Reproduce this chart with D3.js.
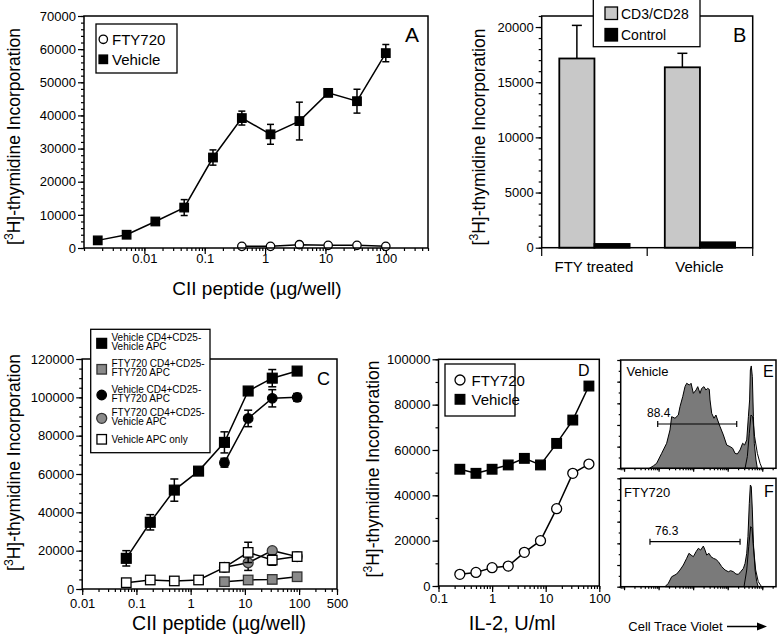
<!DOCTYPE html>
<html>
<head>
<meta charset="utf-8">
<script src="https://cdn.jsdelivr.net/npm/d3@7"></script>
<style>
  body { margin: 0; background: #fff; }
  svg { display: block; font-family: "Liberation Sans", Arial, Helvetica, sans-serif; }
</style>
</head>
<body>
<svg id="fig" width="778" height="636"></svg>
<script>
// ---- panel A: CII peptide dose response ----
var doseA      = [0.00169, 0.00508, 0.0152, 0.0457, 0.137, 0.412, 1.23, 3.7, 11.1, 33.3, 100];
var vehicleA   = [2300, 4000, 8000, 12200, 27300, 39200, 34300, 38300, 46800, 44300, 58800];
var vehicleErr = [500, 500, 700, 2400, 2300, 2100, 3000, 5700, 800, 3600, 2600];
var doseAFty   = [0.412, 1.23, 3.7, 11.1, 33.3, 100];
var ftyA       = [500, 500, 1000, 800, 800, 500];
var ftyAErr    = [300, 300, 300, 300, 300, 300];
var xTicksA = [0.01, 0.1, 1, 10, 100];
var yTicksA = [0, 10000, 20000, 30000, 40000, 50000, 60000, 70000];

// ---- panel B: CD3/CD28 bars ----
var groupsB   = ["FTY treated", "Vehicle"];
var seriesB   = ["CD3/CD28", "Control"];
var cd3B      = [17150, 16350];
var cd3BErr   = [3000, 1270];
var controlB  = [340, 490];
var yTicksB = [0, 5000, 10000, 15000, 20000];

// ---- panel C: co-culture ----
var doseC     = [0.065, 0.18, 0.5, 1.4, 4.2, 11.5, 32, 92];
var doseC2    = [4.2, 11.5, 32, 92];
var vehVeh    = [16000, 34800, 51600, 61500, 76500, 103300, 110000, 113700];
var vehVehErr = [4000, 4000, 5800, 1000, 5500, 1000, 4500, 1000];
var vehFty    = [65900, 89000, 99500, 100000];
var vehFtyErr = [2300, 4300, 4500, 2000];
var ftyFty    = [3800, 4700, 5000, 6400];
var ftyFtyErr = [500, 500, 500, 500];
var ftyVeh    = [11300, 13700, 20000, 16900];
var ftyVehErr = [1000, 4000, 1000, 1000];
var apcOnly    = [3300, 4700, 4200, 4700, 11300, 19100, 15100, 16900];
var apcOnlyErr = [500, 500, 500, 500, 1000, 5300, 2700, 1000];
var xTicksC = [0.01, 0.1, 1, 10, 100, 500];
var yTicksC = [0, 20000, 40000, 60000, 80000, 100000, 120000];

// ---- panel D: IL-2 ----
var il2     = [0.25, 0.5, 1, 2, 4, 8, 16, 32, 64];
var vehD    = [51500, 49700, 51500, 53400, 56300, 53400, 62900, 73200, 88200];
var ftyD    = [5150, 6000, 8100, 8800, 14850, 20000, 34100, 49700, 53800];
var xTicksD = [0.1, 1, 10, 100];
var yTicksD = [0, 20000, 40000, 60000, 80000, 100000];

// ---- panels E/F: Cell Trace Violet histograms (channel, % of max) ----
var chanE  = [189, 215, 237, 270, 303, 325, 336, 358, 380, 391, 409, 424, 435, 453, 464, 479, 497, 508, 523, 534, 549, 562, 573, 584, 589, 600, 615, 628, 639, 655, 677, 699, 721, 738, 754, 769, 787, 804, 817, 831, 842, 850, 855, 861, 868, 875, 881, 892, 901];
var countE = [0, 2.2, 4.6, 13.8, 23.1, 35.4, 47.7, 46.2, 49.2, 56.9, 66.2, 75.4, 78.5, 76.9, 78.5, 69.2, 72.3, 75.4, 69.2, 73.8, 75.4, 72.3, 73.8, 72.9, 63.1, 50.8, 46.2, 49.2, 44.6, 38.5, 30.8, 21.5, 20, 18.5, 13.8, 13.2, 16.9, 23.1, 21.5, 26.2, 47.7, 63.1, 90.8, 94.5, 84.6, 47.7, 23.1, 7.7, 0];
var ctrlChanE  = [820, 835, 848, 859, 870, 883, 901, 919, 932];
var ctrlCountE = [0, 10.8, 32.3, 49.2, 47.7, 29.2, 13.8, 4.6, 0];
var chanF  = [292, 314, 336, 369, 391, 413, 435, 450, 464, 479, 497, 512, 527, 545, 556, 567, 582, 595, 611, 628, 644, 666, 688, 710, 725, 743, 760, 776, 791, 809, 820, 831, 839, 848, 855, 861, 868, 875, 886, 897, 907];
var countF = [0, 3.1, 9.2, 11.7, 15.4, 20, 26.2, 30.8, 29.2, 27.7, 32.3, 35.4, 33.8, 37.5, 33.8, 29.2, 30.8, 27.7, 26.2, 25.2, 23.1, 18.5, 15.4, 13.8, 14.8, 13.8, 11.7, 11.4, 13.8, 16.9, 21.5, 30.8, 46.2, 76.9, 93.8, 92.3, 70.8, 40, 15.4, 4.6, 0];
var ctrlChanF  = [813, 831, 844, 857, 866, 875, 890, 907, 929];
var ctrlCountF = [0, 15.4, 36.9, 55.4, 53.8, 36.9, 15.4, 4.6, 0];
var gateE = [244, 765], gateELevel = 40.9, gateELabel = "88.4";
var gateF = [193, 787], gateFLevel = 41.5, gateFLabel = "76.3";

var svg = d3.select("#fig");
svg.append("rect").attr("width", 778).attr("height", 636).attr("fill", "#fff");

function frame(x0, x1, y0, y1) {
    svg.append("rect")
        .attr("x", x0).attr("y", y0)
        .attr("width", x1 - x0).attr("height", y1 - y0)
        .attr("fill", "none").attr("stroke", "#000").attr("stroke-width", 1.5);
}

function styleAxis(g, fs) {
    g.select("path.domain").remove();
    g.selectAll("line").attr("stroke", "#000").attr("stroke-width", 1.2);
    g.selectAll("text").attr("font-size", fs).attr("fill", "#000")
        .attr("font-family", "Liberation Sans, Arial, sans-serif");
}

function yAxis(y, x0, majors, minorStep) {
    var dom = y.domain();
    var minors = d3.range(dom[0], dom[1] + 1, minorStep);
    var gm = svg.append("g").attr("transform", "translate(" + x0 + ",0)")
        .call(d3.axisLeft(y).tickValues(minors).tickSize(3).tickFormat(""));
    styleAxis(gm, 13);
    var g = svg.append("g").attr("transform", "translate(" + x0 + ",0)")
        .call(d3.axisLeft(y).tickValues(majors).tickSize(6).tickPadding(2).tickFormat(d3.format("d")));
    styleAxis(g, 13);
}

function xLogAxis(x, y0, majors, pad) {
    var dom = x.domain(), minors = [];
    for (var e = Math.floor(Math.log10(dom[0])); e <= Math.ceil(Math.log10(dom[1])); e++) {
        for (var m = 1; m < 10; m++) {
            var v = m * Math.pow(10, e);
            if (v >= dom[0] * 0.999 && v <= dom[1] * 1.001) minors.push(v);
        }
    }
    var gm = svg.append("g").attr("transform", "translate(0," + y0 + ")")
        .call(d3.axisBottom(x).tickValues(minors).tickSize(3).tickFormat(""));
    styleAxis(gm, 13);
    var g = svg.append("g").attr("transform", "translate(0," + y0 + ")")
        .call(d3.axisBottom(x).tickValues(majors).tickSize(6).tickPadding(pad)
            .tickFormat(function (d) { return String(d); }));
    styleAxis(g, 13);
}

function yTitle(x, y, fs) {
    var t = svg.append("text")
        .attr("transform", "translate(" + x + "," + y + ") rotate(-90)")
        .attr("text-anchor", "middle").attr("font-size", fs);
    t.append("tspan").text("[");
    t.append("tspan").attr("font-size", "70%").attr("dy", -7).text("3");
    t.append("tspan").attr("dy", 7).text("H]-thymidine Incorporation");
}

function label(x, y, txt, fs, anchor) {
    return svg.append("text").attr("x", x).attr("y", y)
        .attr("font-size", fs).attr("text-anchor", anchor || "start").text(txt);
}

function zip(xs, ys, es) {
    return xs.map(function (d, i) { return { x: d, y: ys[i], e: es ? es[i] : 0 }; });
}

function series(pts, x, y, opt) {
    var g = svg.append("g");
    g.append("path").datum(pts)
        .attr("fill", "none").attr("stroke", "#000").attr("stroke-width", 1.5)
        .attr("d", d3.line().x(function (d) { return x(d.x); }).y(function (d) { return y(d.y); }));
    var eb = g.append("g").attr("stroke", "#000").attr("stroke-width", 1.5);
    pts.forEach(function (d) {
        if (!d.e) return;
        var cx = x(d.x);
        eb.append("line").attr("x1", cx).attr("x2", cx).attr("y1", y(d.y - d.e)).attr("y2", y(d.y + d.e));
        [d.y - d.e, d.y + d.e].forEach(function (v) {
            eb.append("line").attr("x1", cx - opt.cap).attr("x2", cx + opt.cap).attr("y1", y(v)).attr("y2", y(v));
        });
    });
    drawMarks(g, pts.map(function (d) { return [x(d.x), y(d.y)]; }), opt);
}

function drawMarks(g, xy, opt) {
    var s = opt.size;
    if (opt.shape === "square") {
        g.selectAll(null).data(xy).enter().append("rect")
            .attr("x", function (d) { return d[0] - s / 2; })
            .attr("y", function (d) { return d[1] - s / 2; })
            .attr("width", s).attr("height", s)
            .attr("fill", opt.fill).attr("stroke", opt.stroke || "#000").attr("stroke-width", 1.3);
    } else {
        g.selectAll(null).data(xy).enter().append("circle")
            .attr("cx", function (d) { return d[0]; })
            .attr("cy", function (d) { return d[1]; })
            .attr("r", s / 2)
            .attr("fill", opt.fill).attr("stroke", opt.stroke || "#000").attr("stroke-width", 1.3);
    }
}

function legendBox(x0, y0, x1, y1) {
    svg.append("rect").attr("x", x0).attr("y", y0).attr("width", x1 - x0).attr("height", y1 - y0)
        .attr("fill", "#fff").attr("stroke", "#000").attr("stroke-width", 1.3);
}

// ================= Panel A =================
var xA = d3.scaleLog().domain([0.001, 500]).range([84, 428]);
var yA = d3.scaleLinear().domain([0, 70000]).range([248, 16]);
yAxis(yA, 84, yTicksA, 2000);
xLogAxis(xA, 248, xTicksA, 0);
series(zip(doseAFty, ftyA, ftyAErr), xA, yA, { shape: "circle", size: 8.4, fill: "#fff", cap: 3 });
series(zip(doseA, vehicleA, vehicleErr), xA, yA, { shape: "square", size: 8.5, fill: "#000", cap: 3.5 });
frame(84, 428, 16, 248);
legendBox(96, 24, 177, 73);
drawMarks(svg, [[103.3, 39.3]], { shape: "circle", size: 8.4, fill: "#fff" });
drawMarks(svg, [[103.3, 59.3]], { shape: "square", size: 8.5, fill: "#000" });
label(112, 44.5, "FTY720", 15);
label(112, 64.5, "Vehicle", 15);
label(405, 41.5, "A", 21);
yTitle(20, 136.5, 17.5);
svg.append("text").attr("x", 257).attr("y", 295).attr("text-anchor", "middle").attr("font-size", 19)
    .text("CII peptide (\u00b5g/well)");

// ================= Panel B =================
var xB = d3.scaleBand().domain(groupsB).range([541.7, 752.7]);
var xSub = d3.scaleBand().domain(seriesB).range([17.6, 87.9]);
var yB = d3.scaleLinear().domain([0, 21000]).range([247.7, 16]);
yAxis(yB, 541.7, yTicksB, 1000);
var barColors = { "CD3/CD28": "#c8c8c8", "Control": "#000" };
var barVals = { "CD3/CD28": cd3B, "Control": controlB };
var barErr = { "CD3/CD28": cd3BErr, "Control": [0, 0] };
seriesB.forEach(function (s) {
    groupsB.forEach(function (gname, i) {
        var bx = xB(gname) + xSub(s), bw = xSub.bandwidth(), v = barVals[s][i];
        if (barErr[s][i]) {
            var cx = bx + bw / 2;
            svg.append("line").attr("x1", cx).attr("x2", cx).attr("y1", yB(v)).attr("y2", yB(v + barErr[s][i]))
                .attr("stroke", "#000").attr("stroke-width", 1.5);
            svg.append("line").attr("x1", cx - 5).attr("x2", cx + 5).attr("y1", yB(v + barErr[s][i])).attr("y2", yB(v + barErr[s][i]))
                .attr("stroke", "#000").attr("stroke-width", 1.5);
        }
        svg.append("rect").attr("x", bx).attr("y", yB(v)).attr("width", bw).attr("height", yB(0) - yB(v))
            .attr("fill", barColors[s]).attr("stroke", "#000").attr("stroke-width", 1.8);
    });
});
frame(541.7, 752.7, 16, 247.7);
// category boundary ticks
svg.append("g").selectAll("line")
    .data(groupsB.map(function (g) { return xB(g); }).concat([xB.range()[1]]))
    .enter().append("line")
    .attr("x1", function (d) { return d; }).attr("x2", function (d) { return d; })
    .attr("y1", 247.7).attr("y2", 256).attr("stroke", "#000").attr("stroke-width", 1.2);
groupsB.forEach(function (g) {
    label(xB(g) + xB.bandwidth() / 2 - 0.5, 272, g, 15, "middle");
});
legendBox(593.3, -1, 700, 46.7);
svg.append("rect").attr("x", 605).attr("y", 7).attr("width", 12.5).attr("height", 12.5)
    .attr("fill", barColors["CD3/CD28"]).attr("stroke", "#000").attr("stroke-width", 1.3);
svg.append("rect").attr("x", 605).attr("y", 28.5).attr("width", 12.5).attr("height", 12.5)
    .attr("fill", barColors["Control"]).attr("stroke", "#000").attr("stroke-width", 1.3);
label(621, 19, seriesB[0], 14);
label(621, 39.5, seriesB[1], 14);
label(733, 42, "B", 20);
yTitle(484.5, 137, 17.5);

// ================= Panel C =================
var xC = d3.scaleLog().domain([0.01, 500]).range([82.2, 337]);
var yC = d3.scaleLinear().domain([0, 120000]).range([589, 359]);
yAxis(yC, 82.2, yTicksC, 5000);
xLogAxis(xC, 589, xTicksC, 3.5);
series(zip(doseC, vehVeh, vehVehErr), xC, yC, { shape: "square", size: 9.8, fill: "#000", cap: 4 });
series(zip(doseC2, ftyFty, ftyFtyErr), xC, yC, { shape: "square", size: 9.5, fill: "#8a8a8a", stroke: "#333", cap: 4 });
series(zip(doseC2, vehFty, vehFtyErr), xC, yC, { shape: "circle", size: 9.5, fill: "#000", cap: 4 });
series(zip(doseC2, ftyVeh, ftyVehErr), xC, yC, { shape: "circle", size: 10, fill: "#8a8a8a", stroke: "#333", cap: 4 });
series(zip(doseC, apcOnly, apcOnlyErr), xC, yC, { shape: "square", size: 9.5, fill: "#fff", cap: 4 });
frame(82.2, 337, 359, 589);
legendBox(90.7, 329.3, 210, 452.7);
var legC = [
    { lines: ["Vehicle CD4+CD25-", "Vehicle APC"], y: 343.3, opt: { shape: "square", size: 9.8, fill: "#000" } },
    { lines: ["FTY720 CD4+CD25-", "FTY720 APC"], y: 369.3, opt: { shape: "square", size: 9.5, fill: "#8a8a8a", stroke: "#333" } },
    { lines: ["Vehicle CD4+CD25-", "FTY720 APC"], y: 395, opt: { shape: "circle", size: 9.5, fill: "#000" } },
    { lines: ["FTY720 CD4+CD25-", "Vehicle APC"], y: 418.3, opt: { shape: "circle", size: 10, fill: "#8a8a8a", stroke: "#333" } },
    { lines: ["Vehicle APC only"], y: 439.3, opt: { shape: "square", size: 9.5, fill: "#fff" } }
];
legC.forEach(function (d) {
    drawMarks(svg, [[101.7, d.y]], d.opt);
    if (d.lines.length === 2) {
        label(111.5, d.y - 2.5, d.lines[0], 10);
        label(111.5, d.y + 7, d.lines[1], 10);
    } else {
        label(111.5, d.y + 3.5, d.lines[0], 10);
    }
});
label(317, 385, "C", 18);
yTitle(20, 462.5, 17.5);
svg.append("text").attr("x", 219).attr("y", 630).attr("text-anchor", "middle").attr("font-size", 19.5)
    .text("CII peptide (\u00b5g/well)");

// ================= Panel D =================
var xD = d3.scaleLog().domain([0.1, 100]).range([438.5, 599.3]);
var yD = d3.scaleLinear().domain([0, 100000]).range([586, 359.3]);
yAxis(yD, 438.5, yTicksD, 10000);
xLogAxis(xD, 586, xTicksD, 1.5);
series(zip(il2, ftyD), xD, yD, { shape: "circle", size: 10, fill: "#fff", cap: 4 });
series(zip(il2, vehD), xD, yD, { shape: "square", size: 9.6, fill: "#000", cap: 4 });
frame(438.5, 599.3, 359.3, 586);
legendBox(445, 364, 515, 416);
drawMarks(svg, [[460, 380]], { shape: "circle", size: 10, fill: "#fff" });
drawMarks(svg, [[460, 399.3]], { shape: "square", size: 9.6, fill: "#000" });
label(471.5, 385.5, "FTY720", 15);
label(471.5, 405, "Vehicle", 15);
label(578, 375.7, "D", 16);
yTitle(378.5, 469, 17.5);
label(512, 630, "IL-2, U/ml", 20, "middle");

// ================= Panels E / F =================
var xH = d3.scaleLinear().domain([0, 1024]).range([620.7, 776]);
var xTick = d3.scaleLog().domain([8, 2.5e5]).range([620.7, 776]);

function histPanel(top, bottom, chan, cnt, cchan, ccnt, gate, level) {
    var y = d3.scaleLinear().domain([0, 100]).range([bottom, top]);
    var pts = zip(chan, cnt);
    svg.append("path").datum(pts)
        .attr("fill", "#7a7a7a").attr("stroke", "#000").attr("stroke-width", 1)
        .attr("d", d3.area().x(function (d) { return xH(d.x); }).y0(bottom).y1(function (d) { return y(d.y); }));
    svg.append("path").datum(zip(cchan, ccnt))
        .attr("fill", "none").attr("stroke", "#000").attr("stroke-width", 1)
        .attr("d", d3.line().x(function (d) { return xH(d.x); }).y(function (d) { return y(d.y); }));
    // y ticks
    var gm = svg.append("g").attr("transform", "translate(620.7,0)")
        .call(d3.axisLeft(y).tickValues(d3.range(0, 101, 10)).tickSize(2).tickFormat(""));
    styleAxis(gm, 10);
    var g = svg.append("g").attr("transform", "translate(620.7,0)")
        .call(d3.axisLeft(y).tickValues(d3.range(0, 101, 20)).tickSize(3.5).tickFormat(""));
    styleAxis(g, 10);
    // bottom log ticks
    var gb = svg.append("g").attr("transform", "translate(0," + bottom + ")")
        .call(d3.axisBottom(xTick).ticks(40).tickSize(2).tickFormat(""));
    styleAxis(gb, 10);
    var gb2 = svg.append("g").attr("transform", "translate(0," + bottom + ")")
        .call(d3.axisBottom(xTick).tickValues([10, 100, 1000, 10000, 100000]).tickSize(3.5).tickFormat(""));
    styleAxis(gb2, 10);
    frame(620.7, 776, top, bottom);
    // gate
    var gy = y(level);
    svg.append("line").attr("x1", xH(gate[0])).attr("x2", xH(gate[1])).attr("y1", gy).attr("y2", gy)
        .attr("stroke", "#000").attr("stroke-width", 1.2);
    gate.forEach(function (c) {
        svg.append("line").attr("x1", xH(c)).attr("x2", xH(c)).attr("y1", gy - 3).attr("y2", gy + 3)
            .attr("stroke", "#000").attr("stroke-width", 1.2);
    });
    return y;
}

histPanel(360, 468.3, chanE, countE, ctrlChanE, ctrlCountE, gateE, gateELevel);
label(647, 416.7, gateELabel, 12);
label(626.5, 376, "Vehicle", 13);
label(763, 376.7, "E", 16);

histPanel(478.3, 586.7, chanF, countF, ctrlChanF, ctrlCountF, gateF, gateFLevel);
label(655, 535, gateFLabel, 12);
label(624, 496.7, "FTY720", 13);
label(764, 496.7, "F", 16);

label(628.3, 631, "Cell Trace Violet", 13);
svg.append("line").attr("x1", 727).attr("x2", 760).attr("y1", 626.5).attr("y2", 626.5)
    .attr("stroke", "#000").attr("stroke-width", 1.6);
svg.append("path").attr("d", "M757,622.5 L767,626.5 L757,630.5 Z").attr("fill", "#000");
</script>
</body>
</html>
